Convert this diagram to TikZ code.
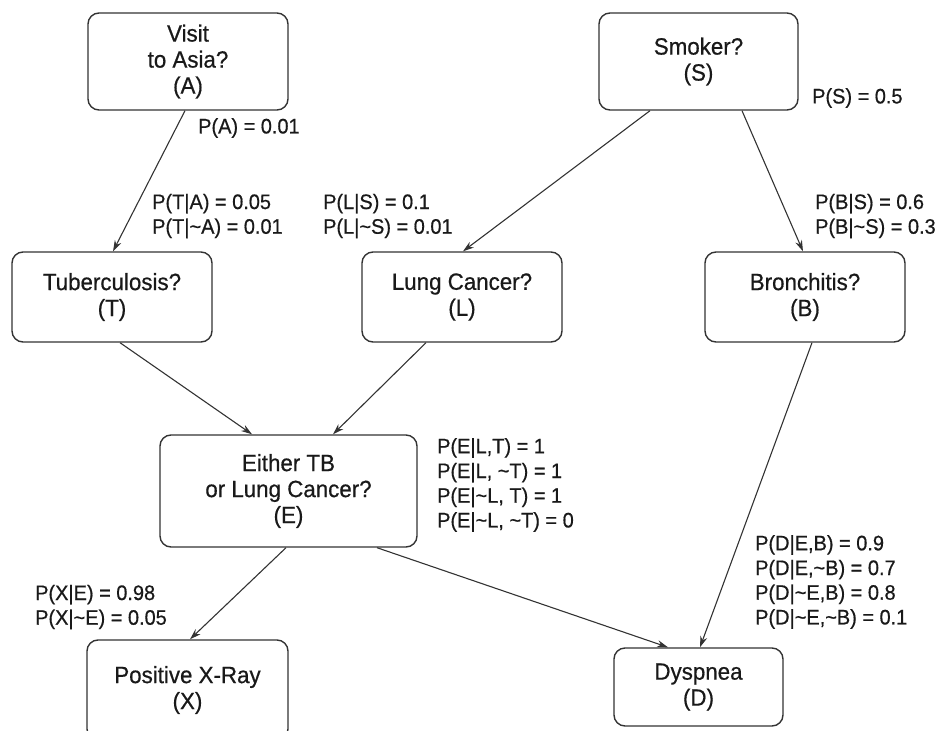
\documentclass[tikz,border=0pt]{standalone}
\usepackage{fontspec}
\setmainfont{Liberation Sans}[FakeStretch=0.95,FakeBold=0.6]
\usetikzlibrary{arrows.meta,calc}
\definecolor{linec}{gray}{0.2}
\definecolor{txt}{gray}{0.1}
\newcommand\boxfont{\fontsize{23.5}{26}\selectfont}
\newcommand\lblfont{\fontsize{21}{24.7}\selectfont}
\begin{document}
\begin{tikzpicture}[x=1pt,y=-1pt,
  box/.style={draw=linec, line width=1.4pt, rounded corners=11pt, align=center, font=\boxfont, text=txt, inner sep=0pt},
  lbl/.style={anchor=west, align=left, font=\lblfont, text=txt, inner sep=0pt},
  link/.style={draw=linec, line width=1.1pt, -{Stealth[length=11pt,width=7pt]}}]
\useasboundingbox (0,0) rectangle (943,731);
\clip (0,0) rectangle (943,731);
% nodes
\node[box, minimum width=200pt, minimum height=97pt] (A) at (188,61.5) {Visit\\to Asia?\\(A)};
\node[box, minimum width=199pt, minimum height=97pt] (S) at (698.5,61.5) {Smoker?\\(S)};
\node[box, minimum width=200pt, minimum height=90pt] (T) at (112,297) {Tuberculosis?\\(T)};
\node[box, minimum width=200pt, minimum height=90pt] (L) at (462,297) {Lung Cancer?\\(L)};
\node[box, minimum width=200pt, minimum height=90pt] (B) at (805,297) {Bronchitis?\\(B)};
\node[box, minimum width=257pt, minimum height=112pt] (E) at (288.5,491) {Either TB\\or Lung Cancer?\\(E)};
\node[box, minimum width=201pt, minimum height=100pt] (X) at (187.5,690) {Positive X-Ray\\(X)};
\node[box, minimum width=169pt, minimum height=78pt] (D) at (698.5,687) {Dyspnea\\(D)};
% labels
\node[lbl] (pA) at (198,128) {P(A) = 0.01};
\node[lbl] (pS) at (812,98) {P(S) = 0.5};
\node[lbl] (pT) at (152,216) {P(T|A) = 0.05\\P(T|\textasciitilde A) = 0.01};
\node[lbl] (pL) at (323,216) {P(L|S) = 0.1\\P(L|\textasciitilde S) = 0.01};
\node[lbl] (pB) at (815,216) {P(B|S) = 0.6\\P(B|\textasciitilde S) = 0.3};
\node[lbl] (pE) at (437,485) {P(E|L,T) = 1\\P(E|L, \textasciitilde T) = 1\\P(E|\textasciitilde L, T) = 1\\P(E|\textasciitilde L, \textasciitilde T) = 0};
\node[lbl] (pX) at (35,607) {P(X|E) = 0.98\\P(X|\textasciitilde E) = 0.05};
\node[lbl] (pD) at (755,582) {P(D|E,B) = 0.9\\P(D|E,\textasciitilde B) = 0.7\\P(D|\textasciitilde E,B) = 0.8\\P(D|\textasciitilde E,\textasciitilde B) = 0.1};
% connectors
\draw[link] (185,0 |- A.south) -- (113,0 |- T.north);
\draw[link] (650,0 |- S.south) -- (463,0 |- L.north);
\draw[link] (742,0 |- S.south) -- (803,0 |- B.north);
\draw[link] (120,0 |- T.south) -- (252,0 |- E.north);
\draw[link] (426,0 |- L.south) -- (333,0 |- E.north);
\draw[link] (286,0 |- E.south) -- (190,0 |- X.north);
\draw[link] (377,0 |- E.south) -- (668,0 |- D.north);
\draw[link] (812,0 |- B.south) -- (700,0 |- D.north);
\end{tikzpicture}
\end{document}
